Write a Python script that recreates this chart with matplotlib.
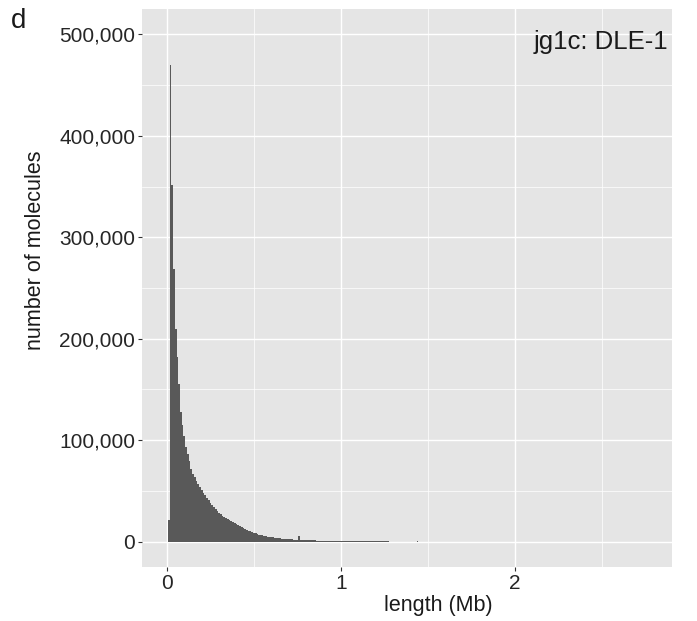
import matplotlib
matplotlib.use("Agg")
import matplotlib.pyplot as plt
from matplotlib.ticker import FuncFormatter, MultipleLocator

# ---- data ----
bin_width_mb = 0.01
# counts for bins centred at 0.01, 0.02, ... 1.27 Mb
counts_main = [
    21000, 470000, 352000, 269000, 210000, 182000, 155000, 128000, 115000, 104000,
    93000, 86000, 79000, 72000, 67000, 64000, 60000, 57000, 54000, 51000,
    48000, 46000, 43500, 41000, 38500, 36000, 34000, 32000, 30000, 28500,
    27000, 25500, 24000, 23000, 22000, 21000, 20000, 19000, 18000, 17000,
    16000, 15000, 14000, 13200, 12400, 11600, 10800, 10000, 9400, 8800,
    8200, 7500, 7000, 6600, 6200, 5800, 5400, 5000, 4700, 4400,
    4100, 3900, 3600, 3400, 3200, 3000, 2800, 2700, 2500, 2400,
    2300, 2200, 2100, 2000, 1900, 5900, 1800, 1700, 1600, 1500,
    1400, 1350, 1300, 1200, 1150, 1100, 1050, 1000, 950, 900,
    850, 800, 780, 750, 720, 700, 680, 650, 620, 600,
    1000, 550, 500, 480, 460, 440, 420, 400, 380, 360,
    350, 340, 330, 320, 310, 300, 290, 280, 270, 260,
    250, 240, 230, 220, 210, 200, 200,
]
# sparse tail: bin centre (Mb) -> count
tail_centres = [1.44, 2.76]
tail_counts = [600, 10]

x_ticks = [0, 1, 2]
x_tick_labels = ["0", "1", "2"]
y_ticks = [0, 100000, 200000, 300000, 400000, 500000]
panel_label = "d"
sample_label = "jg1c: DLE-1"
x_title = "length (Mb)"
y_title = "number of molecules"

# ---- figure ----
plt.rcParams["font.family"] = ["Liberation Sans", "DejaVu Sans"]
W, H = 697, 621
fig = plt.figure(figsize=(W / 100, H / 100), dpi=100)
left, right, top, bottom = 142, 672, 9, 567
ax = fig.add_axes([left / W, 1 - bottom / H, (right - left) / W, (bottom - top) / H])

centres = [bin_width_mb * (i + 1) for i in range(len(counts_main))] + tail_centres
heights = counts_main + tail_counts
ax.bar(centres, heights, width=bin_width_mb, color="#595959", edgecolor="none",
       linewidth=0, align="center", zorder=2)

ax.set_facecolor("#E5E5E5")
for s in ax.spines.values():
    s.set_visible(False)

ax.set_xlim(-0.1435, 2.9035)
ax.set_ylim(-25000, 525000)
ax.set_xticks(x_ticks)
ax.set_xticklabels(x_tick_labels)
ax.set_yticks(y_ticks)
ax.yaxis.set_major_formatter(FuncFormatter(lambda v, p: f"{int(v):,}"))
ax.xaxis.set_minor_locator(MultipleLocator(0.5))
ax.yaxis.set_minor_locator(MultipleLocator(50000))

ax.grid(which="major", color="white", linewidth=1.0, zorder=0)
ax.grid(which="minor", color="white", linewidth=0.5, zorder=0)
ax.set_axisbelow(True)

ax.tick_params(which="major", length=3, width=0.8, color="#333333",
               labelsize=15, labelcolor="#262626", pad=2)
ax.tick_params(which="minor", length=0)

ax.text(0.992, 0.941, sample_label, transform=ax.transAxes, ha="right",
        va="center", fontsize=18.5, color="#1a1a1a")
fig.text(11 / W, 1 - 21 / H, panel_label, ha="left", va="center",
         fontsize=20, color="#1a1a1a")
fig.text(438 / W, 1 - 605 / H, x_title, ha="center", va="center",
         fontsize=15.5, color="#1a1a1a")
fig.text(36 / W, 1 - 250 / H, y_title, ha="center", va="center",
         rotation=90, fontsize=15.5, color="#1a1a1a")

fig.savefig("out.png", dpi=100)
